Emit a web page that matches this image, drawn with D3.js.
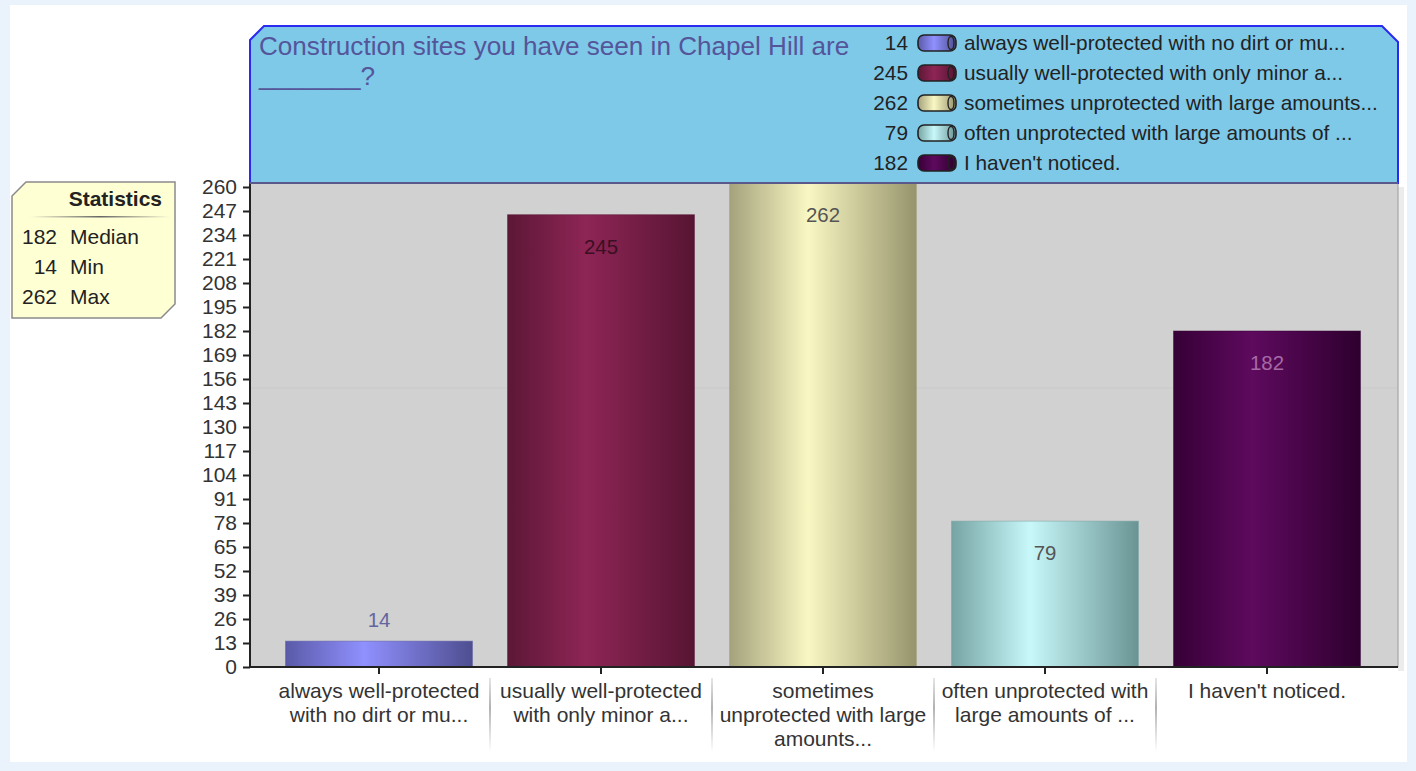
<!DOCTYPE html>
<html><head><meta charset="utf-8">
<script src="https://cdn.jsdelivr.net/npm/d3@7"></script>
<style>html,body{margin:0;padding:0;background:#eaf3fc;}svg{display:block;font-family:"Liberation Sans",Arial,sans-serif;}</style>
</head><body>
<svg id="c" width="1416" height="771"></svg>
<script>
// ---- data ----
const categories = ["always well-protected with no dirt or mu...","usually well-protected with only minor a...","sometimes unprotected with large amounts...","often unprotected with large amounts of ...","I haven't noticed."];
const axisLabels = [["always well-protected","with no dirt or mu..."],["usually well-protected","with only minor a..."],["sometimes","unprotected with large","amounts..."],["often unprotected with","large amounts of ..."],["I haven't noticed."]];
const values = [14,245,262,79,182];
const yTicks = [0,13,26,39,52,65,78,91,104,117,130,143,156,169,182,195,208,221,234,247,260];
const titleLines = ["Construction sites you have seen in Chapel Hill are","_______?"];
const statLabels = ["Median","Min","Max"];
const statValues = [182,14,262];
// ---- styles ----
const gradStops = [["#5a5aa8","#9090ff","#4e4e90"],["#5c1736","#8e2555","#571533"],["#a4a27c","#f9f7c2","#96946c"],["#76a4a4","#c8f8fa","#6a9494"],["#360036","#5e0a5e","#2e002e"]];
const labelColors = ["#6464a0","#3a0f22","#555555","#555555","#a66aa6"];

const svg = d3.select("#c");
const defs = svg.append("defs");
gradStops.forEach((s,i)=>{
  const g = defs.append("linearGradient").attr("id","g"+i).attr("x1",0).attr("x2",1).attr("y1",0).attr("y2",0);
  g.append("stop").attr("offset","0%").attr("stop-color",s[0]);
  g.append("stop").attr("offset","42%").attr("stop-color",s[1]);
  g.append("stop").attr("offset","100%").attr("stop-color",s[2]);
});
const sepG = defs.append("linearGradient").attr("id","sep").attr("x1",0).attr("x2",0).attr("y1",0).attr("y2",1);
sepG.append("stop").attr("offset","0%").attr("stop-color","#ddd");
sepG.append("stop").attr("offset","40%").attr("stop-color","#999");
sepG.append("stop").attr("offset","100%").attr("stop-color","#fff");
const ruleG = defs.append("linearGradient").attr("id","rule").attr("x1",0).attr("x2",1);
ruleG.append("stop").attr("offset","0%").attr("stop-color","#ffffd6");
ruleG.append("stop").attr("offset","50%").attr("stop-color","#666");
ruleG.append("stop").attr("offset","100%").attr("stop-color","#ffffd6");

// page
svg.append("rect").attr("x",10).attr("y",5).attr("width",1397).attr("height",757).attr("fill","#ffffff");

const pL=250,pR=1398,pT=183,pB=667;
const FS=21;
const x = d3.scaleBand().domain(categories).range([268,1378]).paddingInner(0.158).paddingOuter(0.079);
const y = d3.scaleLinear().domain([0,260]).range([pB,187]);

// plot bg
svg.append("rect").attr("x",pR).attr("y",pT+4).attr("width",6).attr("height",pB-pT).attr("fill","#ececec");
svg.append("rect").attr("x",pL).attr("y",pT).attr("width",pR-pL).attr("height",pB-pT).attr("fill","#d1d1d1");
svg.append("line").attr("x1",pL).attr("x2",pR).attr("y1",388).attr("y2",388).attr("stroke","#c9c9c9");
svg.append("line").attr("x1",pR).attr("x2",pR).attr("y1",pT).attr("y2",pB).attr("stroke","#9a9a9a");

// bars
const bars = svg.append("g");
bars.selectAll("rect").data(values).join("rect")
  .attr("x",(d,i)=>x(categories[i])).attr("width",x.bandwidth())
  .attr("y",d=>y(d)).attr("height",d=>pB-y(d))
  .attr("fill",(d,i)=>"url(#g"+i+")")
  .attr("stroke",(d,i)=>gradStops[i][0]).attr("stroke-opacity",0.5).attr("stroke-width",1);
bars.selectAll("text").data(values).join("text")
  .attr("x",(d,i)=>x(categories[i])+x.bandwidth()/2)
  .attr("y",d=> (pB-y(d))>60 ? y(d)+39 : y(d)-14)
  .attr("text-anchor","middle").attr("font-size",20.4)
  .attr("fill",(d,i)=>labelColors[i]).text(d=>d);

// y axis
const yAxis = svg.append("g").attr("transform",`translate(${pL},0)`)
  .call(d3.axisLeft(y).tickValues(yTicks).tickSize(7).tickPadding(6));
yAxis.select(".domain").attr("stroke","#222").attr("stroke-width",2).attr("d",`M0,${pT}V${pB}`);
yAxis.selectAll(".tick line").attr("stroke","#222").attr("stroke-width",2);
yAxis.selectAll(".tick text").attr("font-size",FS).attr("fill","#333").attr("font-family","Liberation Sans, Arial, sans-serif");

// x axis
const xAxis = svg.append("g").attr("transform",`translate(0,${pB})`)
  .call(d3.axisBottom(x).tickSize(7).tickFormat(""));
xAxis.select(".domain").attr("stroke","#222").attr("stroke-width",2).attr("d",`M${pL},0H${pR}`);
xAxis.selectAll(".tick line").attr("stroke","#222").attr("stroke-width",2);
const xl = svg.append("g");
axisLabels.forEach((lines,i)=>{
  const cx = x(categories[i])+x.bandwidth()/2;
  const t = xl.append("text").attr("text-anchor","middle").attr("font-size",FS).attr("fill","#333");
  lines.forEach((ln,j)=>t.append("tspan").attr("x",cx).attr("y",698+j*24).text(ln));
  if(i>0){
    const sx = x(categories[i]) - x.step()*x.paddingInner()/2;
    xl.append("rect").attr("x",sx-0.75).attr("y",678).attr("width",1.5).attr("height",74).attr("fill","url(#sep)");
  }
});

// header panel
const hp = `M${pL+14},26 H${pR-16} L${pR},42 V${pT} H${pL} V40 Z`;
svg.append("path").attr("d",hp).attr("fill","#7ec8e8").attr("stroke","#2a2af0").attr("stroke-width",2);
svg.append("line").attr("x1",pL).attr("x2",pR).attr("y1",pT).attr("y2",pT).attr("stroke","#6a6a6a").attr("stroke-width",1.5);
const tt = svg.append("text").attr("font-size",26.1).attr("fill","#55559a");
titleLines.forEach((ln,j)=>tt.append("tspan").attr("x",259).attr("y",55+j*30).text(ln));

// legend
const lg = svg.append("g");
values.forEach((v,i)=>{
  const cy = 43 + i*30;
  lg.append("text").attr("x",908).attr("y",cy+7).attr("text-anchor","end").attr("font-size",20.8).attr("fill","#222").text(v);
  lg.append("rect").attr("x",918).attr("y",cy-8).attr("width",38).attr("height",16).attr("rx",6).attr("ry",6)
    .attr("fill","url(#g"+i+")").attr("stroke","#222").attr("stroke-width",1.6);
  lg.append("ellipse").attr("cx",951).attr("cy",cy).attr("rx",3).attr("ry",6.5).attr("fill","none").attr("stroke","#222").attr("stroke-width",1.4);
  lg.append("text").attr("x",964).attr("y",cy+7).attr("font-size",20.8).attr("fill","#222").text(categories[i]);
});

// statistics box
const sb = svg.append("g");
sb.append("path").attr("d","M26,182 H175 V304 L161,318 H12 V196 Z").attr("fill","#ffffd4").attr("stroke","#8a8a8a").attr("stroke-width",1.5);
sb.append("text").attr("x",162).attr("y",206).attr("text-anchor","end").attr("font-size",FS).attr("font-weight","bold").attr("fill","#222").text("Statistics");
sb.append("rect").attr("x",30).attr("y",216).attr("width",140).attr("height",1.5).attr("fill","url(#rule)");
statValues.forEach((v,i)=>{
  sb.append("text").attr("x",57).attr("y",244+i*30).attr("text-anchor","end").attr("font-size",FS).attr("fill","#222").text(v);
  sb.append("text").attr("x",70).attr("y",244+i*30).attr("font-size",FS).attr("fill","#222").text(statLabels[i]);
});
</script>
</body></html>
